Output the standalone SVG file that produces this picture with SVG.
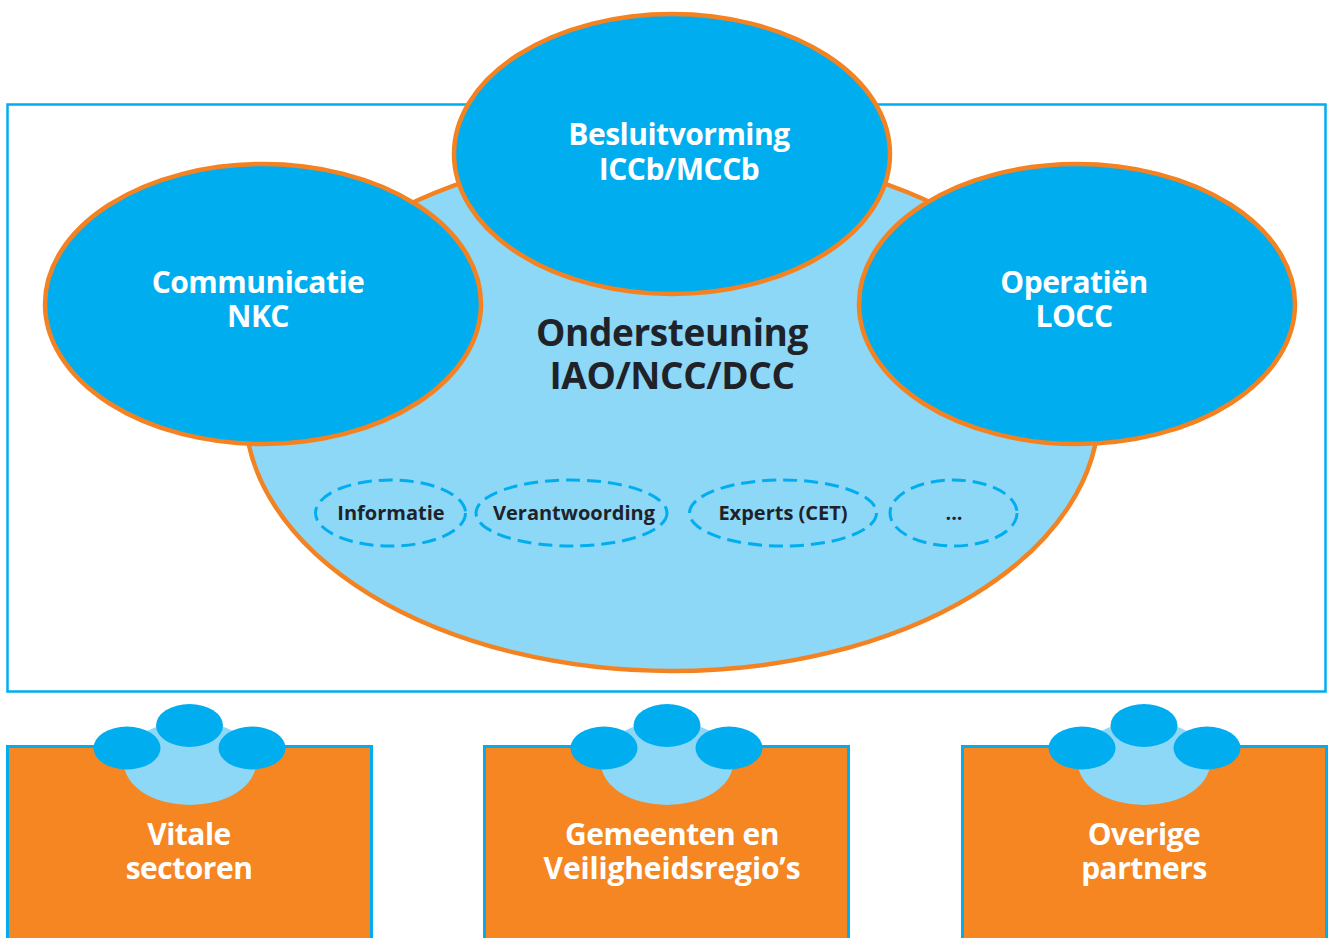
<svg xmlns="http://www.w3.org/2000/svg" width="1328" height="938" viewBox="0 0 1328 938">
<style>
text{font-family:"Open Sans","Noto Sans",sans-serif;text-anchor:middle;font-weight:700}
.w{fill:#fff;font-size:30px;letter-spacing:-.5px}
.d{fill:#1f2329;font-size:37px;letter-spacing:-.4px}
.s{fill:#1f2329;font-size:20px}
.big{fill:#00aeef;stroke:#f58220;stroke-width:4.5}
.dash{fill:none;stroke:#00aeef;stroke-width:3;stroke-dasharray:14 7}
.box{fill:#f58621;stroke:#00aeef;stroke-width:3}
.lb{fill:#8dd7f7}
.db{fill:#00aeef}
</style>
<rect x="7.500" y="104.500" width="1318" height="587" fill="#fff" stroke="#00aeef" stroke-width="2.500"/>
<g id="ondersteuning">
<ellipse cx="672" cy="410" rx="427" ry="261" fill="#8dd7f7" stroke="#f58220" stroke-width="4.500"/>
<text class="d" x="672" y="346">Ondersteuning</text>
<text class="d" x="672" y="389">IAO/NCC/DCC</text>
</g>
<g id="besluitvorming"><ellipse class="big" cx="672" cy="154" rx="218" ry="140"/>
<text class="w" x="679" y="145">Besluitvorming</text><text class="w" x="679" y="180">ICCb/MCCb</text></g>
<g id="communicatie"><ellipse class="big" cx="263" cy="304" rx="218" ry="140"/>
<text class="w" x="258" y="293">Communicatie</text><text class="w" x="258" y="327">NKC</text></g>
<g id="operatien"><ellipse class="big" cx="1077" cy="304" rx="218" ry="140"/>
<text class="w" x="1074" y="293">Operatiën</text><text class="w" x="1074" y="327">LOCC</text></g>
<g id="informatie"><ellipse class="dash" cx="390.500" cy="513" rx="75" ry="33"/><text class="s" x="391" y="520">Informatie</text></g>
<g id="verantwoording"><ellipse class="dash" cx="571.500" cy="513" rx="95.500" ry="33"/><text class="s" x="574" y="520">Verantwoording</text></g>
<g id="experts"><ellipse class="dash" cx="783" cy="513" rx="93.500" ry="33"/><text class="s" x="783" y="520">Experts (CET)</text></g>
<g id="more"><ellipse class="dash" cx="953.500" cy="513" rx="63.500" ry="33"/><text class="s" x="954" y="520">...</text></g>
<g id="vitale"><rect class="box" x="7.500" y="746.500" width="364" height="200"/>
<ellipse class="lb" cx="190" cy="763" rx="66" ry="42"/><ellipse class="db" cx="189.500" cy="725.500" rx="33.500" ry="21.500"/><ellipse class="db" cx="127" cy="748" rx="33.500" ry="21.500"/><ellipse class="db" cx="252" cy="748" rx="33.500" ry="21.500"/>
<text class="w" x="189" y="845">Vitale</text><text class="w" x="189" y="879">sectoren</text></g>
<g id="gemeenten"><rect class="box" x="484.500" y="746.500" width="364" height="200"/>
<ellipse class="lb" cx="667" cy="763" rx="66" ry="42"/><ellipse class="db" cx="667" cy="725.500" rx="33.500" ry="21.500"/><ellipse class="db" cx="604" cy="748" rx="33.500" ry="21.500"/><ellipse class="db" cx="729" cy="748" rx="33.500" ry="21.500"/>
<text class="w" x="672" y="845">Gemeenten en</text><text class="w" x="672" y="879" style="letter-spacing:-.15px">Veiligheidsregio’s</text></g>
<g id="overige"><rect class="box" x="962.500" y="746.500" width="364" height="200"/>
<ellipse class="lb" cx="1144" cy="763" rx="66" ry="42"/><ellipse class="db" cx="1144" cy="725.500" rx="33.500" ry="21.500"/><ellipse class="db" cx="1082" cy="748" rx="33.500" ry="21.500"/><ellipse class="db" cx="1207" cy="748" rx="33.500" ry="21.500"/>
<text class="w" x="1144" y="845">Overige</text><text class="w" x="1144" y="879">partners</text></g>
</svg>
